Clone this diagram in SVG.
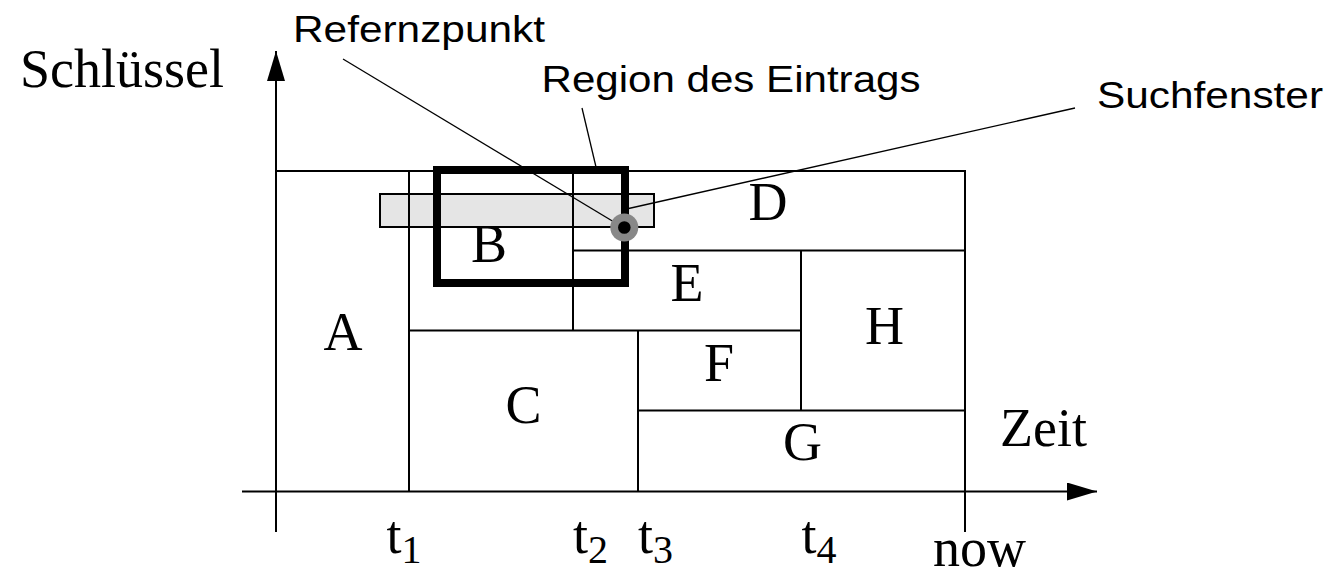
<svg xmlns="http://www.w3.org/2000/svg" width="1328" height="571" viewBox="0 0 1328 571">
  <style>
    .grid { stroke: #000; stroke-width: 2; fill: none; }
    .thin { stroke: #000; stroke-width: 1.3; fill: none; }
    .serif { font-family: "Liberation Serif", "Times New Roman", serif; font-size: 54px; fill: #000; }
    .lbl { text-anchor: middle; }
    .sans { font-family: "Liberation Sans", Arial, sans-serif; font-size: 36px; fill: #000; }
    .sub { font-size: 40px; }
  </style>
  <defs>
    <marker id="arrow" viewBox="0 0 30 18" refX="30" refY="9" markerWidth="30" markerHeight="18" markerUnits="userSpaceOnUse" orient="auto">
      <path d="M0,0 L30,9 L0,18 Z" fill="#000"/>
    </marker>
  </defs>

  <rect width="1328" height="571" fill="#fff"/>

  <!-- search window fill (behind the partition lines) -->
  <rect x="380" y="194" width="274" height="33" fill="#e5e5e5"/>

  <!-- axes -->
  <g id="axes">
    <line class="grid" x1="276" y1="532" x2="276" y2="51" marker-end="url(#arrow)"/>
    <line class="grid" x1="242" y1="491.5" x2="1097" y2="491.5" marker-end="url(#arrow)"/>
  </g>

  <!-- partition of the key/time space -->
  <g id="partition">
    <path class="grid" d="M276 171 H965 V532"/>
    <path class="grid" d="M409 171 V492"/>
    <path class="grid" d="M573 171 V330"/>
    <path class="grid" d="M573 250.5 H965"/>
    <path class="grid" d="M409 330.5 H801"/>
    <path class="grid" d="M801 250 V411"/>
    <path class="grid" d="M638 330 V492"/>
    <path class="grid" d="M638 410.5 H965"/>
  </g>

  <!-- search window outline -->
  <g id="suchfenster-rect">
    <rect class="grid" x="380" y="194" width="274" height="33"/>
  </g>

  <!-- entry region -->
  <g id="eintrag-region">
    <rect x="437" y="170" width="188" height="113" fill="none" stroke="#000" stroke-width="8"/>
  </g>

  <!-- label leader lines -->
  <g id="connectors">
    <line class="thin" x1="343" y1="59" x2="624" y2="228"/>
    <line class="thin" x1="582" y1="108" x2="596" y2="167"/>
    <line class="thin" x1="622" y1="210" x2="1075" y2="108"/>
  </g>

  <!-- reference point -->
  <g id="referenzpunkt">
    <circle cx="624.3" cy="227.5" r="14" fill="#888"/>
    <circle cx="624.3" cy="227.5" r="6.3" fill="#000"/>
  </g>

  <!-- region labels -->
  <g id="labels">
    <text class="serif lbl" x="343" y="350">A</text>
    <text class="serif lbl" x="489" y="262">B</text>
    <text class="serif lbl" x="523.5" y="423">C</text>
    <text class="serif lbl" x="768" y="220">D</text>
    <text class="serif lbl" x="687" y="301">E</text>
    <text class="serif lbl" x="719" y="381">F</text>
    <text class="serif lbl" x="802.5" y="460">G</text>
    <text class="serif lbl" x="884.5" y="344">H</text>
  </g>

  <!-- axis captions and ticks -->
  <g id="axis-text">
    <text class="serif" x="20" y="86.5">Schlüssel</text>
    <text class="serif" x="1000" y="445.5">Zeit</text>
    <text class="serif" x="386.5" y="553">t<tspan class="sub" dy="10">1</tspan></text>
    <text class="serif" x="573" y="553">t<tspan class="sub" dy="10">2</tspan></text>
    <text class="serif" x="638" y="553">t<tspan class="sub" dy="10">3</tspan></text>
    <text class="serif" x="801.5" y="553">t<tspan class="sub" dy="10">4</tspan></text>
    <text class="serif" x="933" y="566">now</text>
  </g>

  <!-- annotations -->
  <g id="annotations">
    <text class="sans" x="293" y="41.5" textLength="252" lengthAdjust="spacingAndGlyphs">Refernzpunkt</text>
    <text class="sans" x="541.5" y="91.5" textLength="379" lengthAdjust="spacingAndGlyphs">Region des Eintrags</text>
    <text class="sans" x="1097" y="108" textLength="226" lengthAdjust="spacingAndGlyphs">Suchfenster</text>
  </g>
</svg>
